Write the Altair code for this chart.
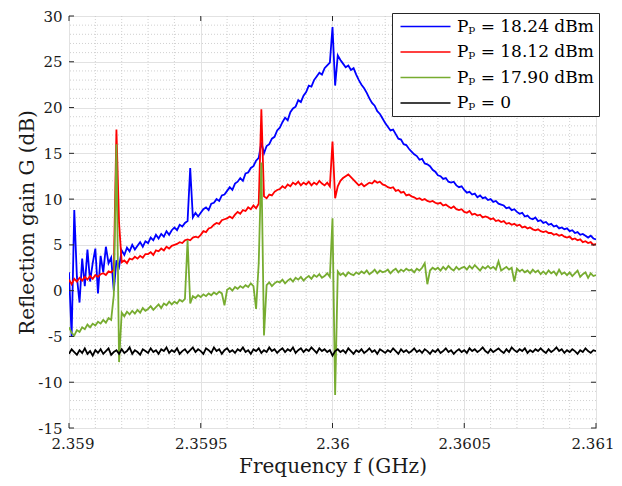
import altair as alt
import numpy as np
import pandas as pd

# Frequency sweep (GHz): start and step of the sampling grid
F_START = 2.359
F_STEP = 0.00001

# Reflection gain G (dB), one value per frequency sample
g_1824 = [
    2.0, -5.0, 8.8, 1.5, -1.3, 3.5, 0.5, 4.5, 1.0, 3.0,
    4.6, -0.3, 3.8, 2.0, 4.8, 3.0, 3.6, 0.0, 3.3, 2.6,
    4.4, 3.9, 4.7, 4.3, 5.0, 4.5, 4.9, 5.3, 4.8, 5.4,
    5.2, 5.8, 5.5, 6.1, 5.7, 6.2, 5.9, 6.5, 6.1, 6.6,
    6.9, 6.6, 7.2, 7.0, 7.4, 7.6, 13.4, 8.0, 8.5, 8.1,
    8.5, 8.9, 9.1, 8.8, 9.5, 9.6, 10.0, 9.8, 10.4, 10.5,
    10.9, 11.3, 11.0, 11.7, 11.9, 12.3, 12.0, 12.8, 12.9, 13.4,
    13.6, 14.2, 14.5, 16.2, 15.0, 15.8, 16.0, 16.6, 16.8, 17.5,
    17.8, 18.4, 18.9, 18.6, 19.5, 19.9, 20.1, 20.8, 20.6, 21.3,
    21.7, 22.4, 22.3, 23.0, 23.4, 23.8, 23.6, 24.3, 24.6, 24.9,
    28.8, 22.4, 25.7, 25.2, 24.8, 24.4, 24.6, 24.1, 24.3, 23.6,
    23.0, 22.5, 22.1, 21.6, 21.0, 20.5, 20.2, 19.6, 19.3, 18.8,
    18.3, 17.9, 17.5, 17.6, 17.1, 16.6, 16.5, 16.0, 15.9, 15.5,
    15.2, 14.9, 14.7, 14.3, 14.4, 13.9, 13.8, 13.6, 13.2, 13.0,
    12.6, 12.5, 12.2, 12.3, 11.9, 11.8, 11.9, 11.5, 11.3, 11.4,
    11.0, 10.7, 10.8, 10.5, 10.6, 10.2, 10.4, 10.1, 10.2, 9.9,
    10.0, 9.7, 9.8, 9.5, 9.4, 9.3, 9.0, 9.1, 8.8, 8.9,
    8.6, 8.4, 8.5, 8.1, 8.2, 7.9, 7.8, 8.0, 7.6, 7.7,
    7.4, 7.5, 7.2, 7.3, 7.0, 7.1, 6.8, 6.9, 6.7, 6.8,
    6.5, 6.6, 6.3, 6.4, 6.1, 6.2, 6.0, 5.8, 6.0, 5.7, 5.6,
]

g_1812 = [
    1.2, 0.7, 1.3, 1.0, 1.4, 1.1, 1.5, 1.2, 1.6, 1.3,
    1.7, 1.5, 1.8, 1.9, 1.7, 2.1, 2.0, 2.3, 17.6, 7.4,
    3.1, 3.3, 3.0, 3.5, 3.4, 3.7, 3.5, 3.8, 3.6, 4.0,
    4.0, 4.2, 3.9, 4.4, 4.3, 4.6, 4.4, 4.8, 4.6, 4.9,
    5.0, 5.1, 5.3, 5.2, 5.5, 5.6, 5.5, 5.8, 5.9, 5.8,
    6.1, 6.5, 6.4, 6.8, 6.9, 7.2, 7.4, 7.3, 7.7, 7.8,
    7.9, 8.1, 7.9, 8.3, 8.6, 8.4, 8.8, 8.7, 9.1, 8.9,
    9.3, 9.0, 9.5, 19.8, 10.3, 10.1, 10.5, 10.4, 10.8, 11.0,
    11.1, 11.4, 11.2, 11.6, 11.4, 11.8, 11.6, 11.9, 11.5, 11.8,
    11.6, 11.9, 11.5, 11.8, 11.6, 12.0, 11.7, 11.5, 11.8, 11.4,
    16.3, 10.1, 11.4, 12.0, 12.3, 12.5, 12.7, 12.4, 12.1, 11.8,
    11.5, 11.7, 11.4, 11.6, 11.8, 11.7, 12.0, 11.8, 11.9, 11.6,
    11.5, 11.3, 11.2, 11.3, 10.9, 11.0, 10.7, 10.8, 10.4, 10.5,
    10.3, 10.2, 10.0, 10.1, 9.9, 10.0, 9.8, 9.7, 9.8, 9.6,
    9.5, 9.6, 9.3, 9.4, 9.2, 9.0, 9.2, 8.9, 8.8, 8.9,
    8.6, 8.5, 8.7, 8.3, 8.4, 8.2, 8.3, 8.0, 8.1, 8.0,
    7.8, 7.9, 7.6, 7.7, 7.5, 7.6, 7.3, 7.4, 7.2, 7.3,
    7.1, 7.2, 6.9, 7.0, 6.8, 6.9, 6.7, 6.6, 6.7, 6.5,
    6.4, 6.5, 6.3, 6.3, 6.1, 6.2, 6.0, 6.1, 5.9, 5.8,
    5.9, 5.6, 5.7, 5.5, 5.6, 5.3, 5.4, 5.2, 5.3, 5.0, 5.1,
]

g_1790 = [
    -4.0, -4.6, -4.9, -4.3, -4.5, -4.0, -4.2, -3.7, -4.0, -3.6,
    -3.8, -3.4, -3.6, -3.2, -3.5, -3.0, -3.2, -0.5, 16.0, -7.8,
    -2.4, -2.8, -2.3, -2.6, -2.2, -2.5, -2.1, -2.4, -1.9, -2.2,
    -2.0, -1.7, -2.1, -1.8, -1.5, -1.9, -1.4, -1.6, -1.2, -1.5,
    -1.2, -1.4, -1.0, -1.2, -0.9, 5.5, -1.4, -0.6, -0.8, -0.5,
    -0.7, -0.4, -0.6, -0.3, -0.5, -0.2, -0.4, -0.1, -0.3, -1.6,
    0.1, 0.3, 0.0, 0.4, 0.2, 0.5, 0.3, 0.6, 0.4, 0.8,
    0.5, -2.0, 3.0, 14.0, -4.9, 0.6, 0.9, 0.5, 0.8, 1.0,
    0.9, 1.2, 0.8, 1.1, 1.3, 1.0, 1.4, 1.2, 1.5, 1.1,
    1.4, 1.6, 1.3, 1.7, 1.5, 1.8, 1.4, 1.6, 1.9, 1.5,
    7.9, -11.4, 2.1, 1.7, 1.9, 1.6, 2.0, 1.8, 1.7, 2.0,
    1.8, 2.1, 1.9, 2.2, 1.8, 2.0, 2.3, 1.9, 2.2, 2.0,
    2.1, 2.3, 1.9, 2.2, 2.4, 2.0, 2.3, 2.1, 2.4, 2.2,
    2.3, 2.0, 2.4, 2.2, 2.5, 3.0, 0.7, 2.2, 2.5, 2.3,
    2.5, 2.2, 2.6, 2.3, 2.7, 2.4, 2.2, 2.6, 2.3, 2.5,
    2.6, 2.3, 2.7, 2.4, 2.8, 2.5, 2.2, 2.6, 2.4, 2.7,
    2.4, 2.6, 2.3, 3.2, 2.2, 2.4, 2.6, 2.3, 2.5, 1.0,
    2.4, 2.1, 2.3, 2.0, 2.2, 1.9, 2.3, 2.0, 2.2, 1.8,
    2.1, 1.8, 2.2, 1.9, 2.1, 1.7, 2.3, 1.8, 2.0, 1.7,
    2.0, 1.6, 1.9, 2.2, 1.5, 1.8, 2.0, 1.4, 1.9, 1.6, 1.7,
]

g_0 = [
    -6.9, -6.4, -6.7, -7.0, -6.5, -6.8, -6.3, -6.9, -6.6, -7.1,
    -6.5, -6.8, -6.4, -6.9, -6.6, -6.3, -7.0, -6.7, -6.5, -6.9,
    -6.4, -6.8, -6.6, -6.2, -6.9, -6.5, -6.7, -7.0, -6.4, -6.6,
    -6.8, -6.3, -6.7, -6.5, -6.9, -6.4, -6.6, -6.2, -6.8, -6.5,
    -6.7, -6.3, -6.9, -6.6, -6.4, -6.8, -6.5, -6.2, -6.7, -6.4,
    -6.6, -6.9, -6.3, -6.5, -6.8, -6.2, -6.6, -6.4, -6.9, -6.5,
    -6.3, -6.7, -6.5, -6.8, -6.4, -6.6, -6.2, -6.7, -6.5, -6.9,
    -6.4, -6.6, -6.3, -6.8, -6.5, -6.7, -6.2, -6.6, -6.4, -6.8,
    -6.5, -6.3, -6.7, -6.4, -6.6, -6.2, -6.8, -6.5, -6.3, -6.7,
    -6.4, -6.6, -6.2, -6.5, -6.8, -6.3, -6.6, -6.4, -6.7, -6.5,
    -7.1, -6.6, -6.4, -6.7, -6.5, -6.8, -6.3, -6.6, -6.9, -6.5,
    -6.7, -6.4, -6.8, -6.6, -6.3, -6.7, -6.5, -6.9, -6.4, -6.6,
    -6.8, -6.5, -6.7, -6.3, -6.6, -6.9, -6.4, -6.7, -6.5, -6.8,
    -6.6, -6.3, -6.7, -6.5, -6.8, -6.4, -6.6, -6.9, -6.5, -6.7,
    -6.4, -6.8, -6.6, -6.3, -6.7, -6.5, -6.9, -6.6, -6.4, -6.7,
    -6.5, -6.8, -6.3, -6.6, -6.4, -6.7, -6.5, -6.2, -6.6, -6.8,
    -6.4, -6.7, -6.5, -6.3, -6.6, -6.8, -6.4, -6.7, -6.2, -6.5,
    -6.7, -6.4, -6.6, -6.3, -6.8, -6.5, -6.7, -6.4, -6.6, -6.3,
    -6.6, -6.8, -6.4, -6.7, -6.5, -6.2, -6.6, -6.4, -6.8, -6.5,
    -6.7, -6.4, -6.6, -6.9, -6.5, -6.7, -6.3, -6.6, -6.8, -6.5,
    -6.6,
]

series_labels = ["Pₚ = 18.24 dBm", "Pₚ = 18.12 dBm", "Pₚ = 17.90 dBm", "Pₚ = 0"]
series_colors = ["#0000ff", "#ff0000", "#77ac30", "#000000"]

x_ticks = [2.359, 2.3595, 2.36, 2.3605, 2.361]
y_ticks = [-15, -10, -5, 0, 5, 10, 15, 20, 25, 30]
x_minor = [2.3591, 2.3592, 2.3593, 2.3594, 2.3596, 2.3597, 2.3598, 2.3599,
           2.3601, 2.3602, 2.3603, 2.3604, 2.3606, 2.3607, 2.3608, 2.3609]
y_minor = [v for v in range(-14, 30) if v % 5 != 0]

# ---- build table ----
rows = []
for lab, vals in zip(series_labels, [g_1824, g_1812, g_1790, g_0]):
    for i, g in enumerate(vals):
        rows.append({"f": round(F_START + i * F_STEP, 6), "G": g, "series": lab})
df = pd.DataFrame(rows)

W, H = 527, 412
FRAME = "#262626"
FONT = "DejaVu Serif"

xscale = alt.Scale(domain=[2.359, 2.361], nice=False, zero=False)
yscale = alt.Scale(domain=[-15, 30], nice=False, zero=False)

x_axis = alt.Axis(values=x_ticks, labelExpr="datum.value + ''",
                  title="Frequency f (GHz)", labelPadding=8, titlePadding=5,
                  labelFlush=True, labelFlushOffset=18, labelOverlap=False)
y_axis = alt.Axis(values=y_ticks, labelExpr="datum.value + ''",
                  title="Reflection gain G (dB)", labelPadding=7, titlePadding=0,
                  labelOverlap=False)

X = alt.X("f:Q", scale=xscale, axis=x_axis)
Y = alt.Y("G:Q", scale=yscale, axis=y_axis)

minor_x = alt.Chart(pd.DataFrame({"f": x_minor})).mark_rule(
    color="#c4c4c4", strokeDash=[1, 2], strokeWidth=0.8
).encode(x=X)

minor_y = alt.Chart(pd.DataFrame({"G": y_minor})).mark_rule(
    color="#c4c4c4", strokeDash=[1, 2], strokeWidth=0.8
).encode(y=Y)

lines = alt.Chart(df).mark_line(strokeWidth=1.8, clip=True).encode(
    x=X,
    y=Y,
    color=alt.Color("series:N",
                    scale=alt.Scale(domain=series_labels, range=series_colors),
                    legend=alt.Legend(title=None, orient="none", legendX=323, legendY=-3,
                                      symbolType="M-1,0L9,0", symbolSize=100,
                                      symbolStrokeWidth=1.5, labelOffset=43,
                                      labelFont=FONT, labelFontSize=17, labelColor="#000000",
                                      padding=5, rowPadding=7.5, strokeColor=FRAME,
                                      fillColor="white", cornerRadius=0, labelLimit=300)),
    detail="series:N",
)

tick_x_df = pd.DataFrame({"f": x_ticks})
tick_y_df = pd.DataFrame({"G": y_ticks})
tick_style = dict(color=FRAME, strokeWidth=1)

ticks_bottom = alt.Chart(tick_x_df).mark_rule(**tick_style).encode(
    x=X, y=alt.value(H), y2=alt.value(H - 5))
ticks_top = alt.Chart(tick_x_df).mark_rule(**tick_style).encode(
    x=X, y=alt.value(0), y2=alt.value(5))
ticks_left = alt.Chart(tick_y_df).mark_rule(**tick_style).encode(
    y=Y, x=alt.value(0), x2=alt.value(5))
ticks_right = alt.Chart(tick_y_df).mark_rule(**tick_style).encode(
    y=Y, x=alt.value(W), x2=alt.value(W - 5))

chart = alt.layer(
    minor_x, minor_y, lines, ticks_bottom, ticks_top, ticks_left, ticks_right
).properties(
    width=W, height=H,
    autosize=alt.AutoSizeParams(type="none"),
    padding={"left": 61, "top": 8, "right": 18, "bottom": 50},
).configure_view(
    stroke=FRAME, strokeWidth=1
).configure_axis(
    labelFont=FONT, labelFontSize=15, labelColor="#1a1a1a",
    titleFont=FONT, titleFontSize=20, titleColor="#1a1a1a", titleFontWeight="normal",
    domain=False, ticks=False, grid=True, gridColor="#e2e2e2", gridWidth=1,
)

chart.save("out.html", embed_options={"renderer": "svg", "actions": False})
